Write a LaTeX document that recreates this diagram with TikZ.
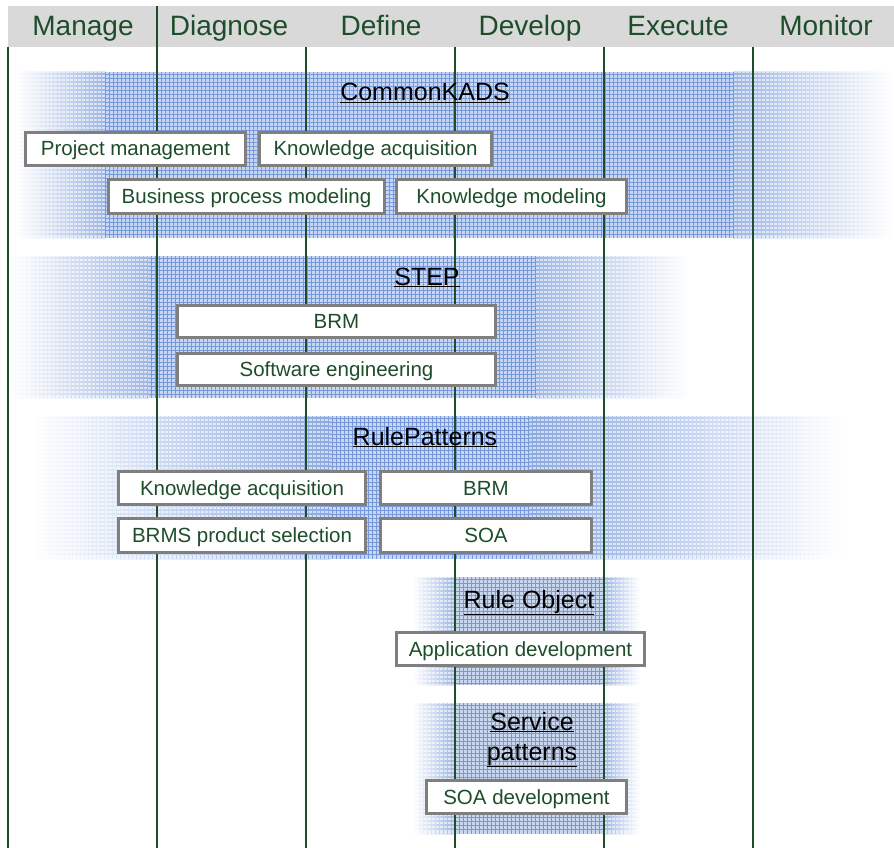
\documentclass[tikz,border=0pt]{standalone}
\usepackage{fontspec}
\setmainfont{Liberation Sans}
\definecolor{headgray}{HTML}{D9D9D9}
\definecolor{darkgreen}{HTML}{1E4D2B}
\definecolor{boxgray}{HTML}{7F7F7F}
\definecolor{bandfill}{HTML}{C8D6F0}
\definecolor{gridline}{HTML}{7799D9}

% A graph-paper band: fades in from x0 to x1, solid from x1 to x2, fades out to x3.
% #5/#6: top and bottom; #7: strength (percent) at the inner edge of the fades.
\newcommand{\gridband}[7]{%
  \pgfmathsetmacro\bxa{#1}\pgfmathsetmacro\bxb{#2}%
  \pgfmathsetmacro\bxc{#3}\pgfmathsetmacro\bxd{#4}%
  \pgfmathsetmacro\bya{#5}\pgfmathsetmacro\byb{#6}%
  \pgfmathtruncatemacro\edge{#7}%
  \shade[left color=white, right color=bandfill!\edge!white] (\bxa,\bya) rectangle (\bxb,\byb);
  \fill[bandfill] (\bxb,\bya) rectangle (\bxc,\byb);
  \shade[left color=bandfill!\edge!white, right color=white] (\bxc,\bya) rectangle (\bxd,\byb);
  \pgfmathtruncatemacro\nh{(\byb-\bya)/4-1}%
  \foreach \i in {0,...,\nh}{%
    \pgfmathsetmacro\gy{\bya+2+4*\i}%
    \shade[left color=white, right color=gridline!\edge!white] (\bxa,\gy-0.3) rectangle (\bxb,\gy+0.3);
    \fill[gridline] (\bxb,\gy-0.3) rectangle (\bxc,\gy+0.3);
    \shade[left color=gridline!\edge!white, right color=white] (\bxc,\gy-0.3) rectangle (\bxd,\gy+0.3);
  }%
  \pgfmathtruncatemacro\nv{(\bxd-\bxa)/4-1}%
  \foreach \i in {0,...,\nv}{%
    \pgfmathsetmacro\gx{\bxa+2+4*\i}%
    \pgfmathsetmacro\fa{(\gx-\bxa)/(\bxb-\bxa)}%
    \pgfmathsetmacro\fb{(\bxd-\gx)/(\bxd-\bxc)}%
    \pgfmathtruncatemacro\pc{\gx<\bxb ? \edge*\fa : (\gx>\bxc ? \edge*\fb : 100)}%
    \draw[gridline!\pc!white, line width=0.6pt] (\gx,\bya) -- (\gx,\byb);
  }%
}

% A white activity box given by its outer corners.
\newcommand{\boxnode}[6]{%
  \node[actbox, minimum width={#4-#2-2.7}, minimum height={#5-#3-2.7}]
    (#1) at ({(#2+#4)/2},{(#3+#5)/2}) {#6};%
}

\tikzset{
  phase/.style={text=darkgreen, font=\fontsize{28}{30}\selectfont, inner sep=0pt, anchor=base},
  colline/.style={draw=darkgreen, line width=1.3pt},
  actbox/.style={draw=boxgray, line width=2.7pt, fill=white, text=darkgreen,
    inner sep=0pt, text height=16.5pt, text depth=2.5pt, font=\fontsize{20.5}{24}\selectfont},
  bandtitle/.style={text=black, inner sep=0pt, anchor=base, font=\fontsize{25}{31}\selectfont}
}

\begin{document}
\begin{tikzpicture}[x=1pt,y=-1pt]
\useasboundingbox (0,0) rectangle (894,848);
\fill[white] (0,0) rectangle (894,848);

% header bar with the phases
\fill[headgray] (8,6) rectangle (894,47);
\node[phase] (manage)   at (83,36)  {Manage};
\node[phase] (diagnose) at (229,36) {Diagnose};
\node[phase] (define)   at (381,36) {Define};
\node[phase] (develop)  at (530,36) {Develop};
\node[phase] (execute)  at (678,36) {Execute};
\node[phase] (monitor)  at (826,36) {Monitor};

% method bands
\gridband{15}{105}{733}{894}{72}{238}{72}
\gridband{9}{149}{536}{690}{256}{398}{72}
\gridband{30}{330}{530}{845}{416}{559}{85}
\gridband{413}{455}{603}{640}{577}{685}{72}
\gridband{413}{455}{603}{640}{703}{834}{72}

% phase dividers
\coordinate (c0t) at (8,47);    \coordinate (c0b) at (8,848);
\coordinate (c1t) at (157,6);   \coordinate (c1b) at (157,848);
\coordinate (c2t) at (306,47);  \coordinate (c2b) at (306,848);
\coordinate (c3t) at (455,47);  \coordinate (c3b) at (455,848);
\coordinate (c4t) at (604,47);  \coordinate (c4b) at (604,848);
\coordinate (c5t) at (753,47);  \coordinate (c5b) at (753,848);
\foreach \k in {0,...,5}{\draw[colline] (c\k t) -- (c\k b);}

% CommonKADS
\node[bandtitle] (ck) at (425,101) {\underline{CommonKADS}};
\boxnode{pm}{24}{131}{247}{167}{Project management}
\boxnode{ka}{258}{131}{493}{167}{Knowledge acquisition}
\boxnode{bpm}{107}{178}{386}{215}{Business process modeling}
\boxnode{km}{395}{178}{628}{215}{Knowledge modeling}

% STEP
\node[bandtitle] (step) at (427,285) {\underline{STEP}};
\boxnode{brmA}{176}{304}{497}{339}{BRM}
\boxnode{se}{176}{352}{497}{387}{Software engineering}

% RulePatterns
\node[bandtitle] (rp) at (425,445) {\underline{RulePatterns}};
\boxnode{kaB}{117}{470}{367}{506}{Knowledge acquisition}
\boxnode{brmB}{379}{470}{593}{506}{BRM}
\boxnode{brms}{117}{517}{367}{554}{BRMS product selection}
\boxnode{soa}{379}{517}{593}{554}{SOA}

% Rule Object
\node[bandtitle] (ro) at (529,608) {\underline{Rule Object}};
\boxnode{app}{395}{631}{646}{667}{Application development}

% Service patterns
\node[bandtitle] (spA) at (532,730) {\underline{Service}};
\node[bandtitle] (spB) at (532,760) {\underline{patterns}};
\boxnode{soadev}{425}{779}{628}{815}{SOA development}
\end{tikzpicture}
\end{document}
